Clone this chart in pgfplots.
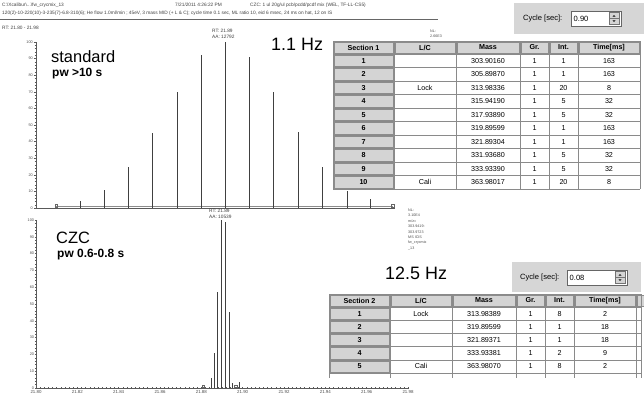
\documentclass[border=0pt]{standalone}
\usepackage{pgfplots}
\pgfplotsset{compat=1.18}
\usepackage{fontspec}
\setmainfont{Liberation Sans}

\newcommand\fs[1]{\fontsize{#1}{#1}\selectfont}
\definecolor{btn}{HTML}{D4D4D4}
\definecolor{panel}{HTML}{D6D6D6}
\definecolor{grid}{HTML}{8A8A8A}

\pgfplotsset{
  chrom/.style={
    scale only axis, clip=false,
    axis x line=bottom, axis y line=left,
    axis line style={-, black!65, line width=0.5bp},
    tick style={black!65, line width=0.35bp},
    major tick length=2.4bp, minor tick length=1.4bp,
    tick align=outside,
    ymin=0, ymax=100,
    ytick={0,10,...,100}, minor y tick num=4,
    yticklabel style={font=\fs{3.8}, text=black!70, inner sep=0.6bp},
    xticklabel style={font=\fs{4.4}, text=black!70, inner sep=1bp},
    /pgf/number format/assume math mode=true,
  },
  stick/.style={ycomb, mark=none, black!75, line width=0.7bp},
}

\begin{document}
\begin{tikzpicture}
\useasboundingbox (0,0) rectangle (644bp,-398bp);

% upper trace: standard, cycle 0.90 s
\begin{axis}[chrom, at={(36bp,-208bp)}, anchor=south west,
  width=359bp, height=166bp, xmin=21.80, xmax=21.9737, xtick=\empty]
  \addplot[black!45, line width=0.5bp] coordinates {(21.8097,1.3) (21.9727,1.3)};
  \addplot[only marks, mark=square, mark size=1.3bp, black!60,
    mark options={line width=0.3bp}] coordinates {(21.8097,1.3) (21.9727,1.3)};
  \addplot[stick] coordinates {
    (21.8213,4) (21.8329,11) (21.8445,25) (21.8561,45) (21.8682,70)
    (21.8798,92) (21.8915,100) (21.9031,91) (21.9147,70) (21.9268,46)
    (21.9384,25) (21.9505,10) (21.9616,5.5)};
\end{axis}

% lower trace: CZC, cycle 0.08 s
\begin{axis}[chrom, at={(36bp,-388bp)}, anchor=south west,
  width=372bp, height=168bp, xmin=21.80, xmax=21.98,
  xtick={21.80,21.82,21.84,21.86,21.88,21.90,21.92,21.94,21.96,21.98},
  minor x tick num=9, tick align=center,
  xticklabel={\pgfmathprintnumber[fixed,fixed zerofill,precision=2]{\tick}}]
  \addplot[only marks, mark=square, mark size=1.2bp, black!60,
    mark options={line width=0.3bp}] coordinates {(21.8808,1) (21.8966,1)};
  \addplot[stick] coordinates {
    (21.8847,6) (21.8861,21) (21.8879,57) (21.8899,100) (21.8916,99)
    (21.8934,45) (21.8950,3) (21.8982,3.5)};
\end{axis}

\begin{scope}[x=1bp, y=-1bp]
  % run header
  \begin{scope}[every node/.style={anchor=west, inner sep=0pt, font=\fs{4.8}, text=black!75}]
    \node at (2,5) {C:\textbackslash Xcalibur\textbackslash...\textbackslash fw\_crycmix\_13};
    \node at (175,5) {7/21/2011 4:26:22 PM};
    \node at (250,5) {CZC: 1 ul 20g/ul pcb/pcdd/pcdf mix (WEL, TF-LL-CS5)};
    \node at (2,13) {120(2)-10-220(10)-3-235(7)-6.8-310(6); He flow 1.0ml/min ; 45eV, 3 mass MID (+ L \& C); cycle time 0.1 sec, ML ratio 10, eid 6 msec, 24 ms on hat, 12 on IS};
    \node at (2,28) {RT: 21.80 - 21.98};
    \node at (212,31) {RT: 21.89};
    \node at (212,36.5) {AA: 12792};
    \node at (209,211) {RT: 21.89};
    \node at (209,216.5) {AA: 10539};
  \end{scope}
  \draw[black!60, line width=0.4bp] (0,19) -- (438,19);

  \begin{scope}[every node/.style={anchor=west, inner sep=0pt, font=\fs{3.7}, text=black!70}]
    \node at (430,31) {NL:};
    \node at (430,36) {2.66E3};
    \foreach \t [count=\k from 0] in {NL:,3.10E4,m/z=,303.9419-,303.9723,MS ICIS,fw\_crycmix,\_13}
      \node at (408,210+\k*5.5) {\t};
  \end{scope}

  % labels
  \node[anchor=west, inner sep=0pt, font=\fs{16.5}] at (51,57) {standard};
  \node[anchor=west, inner sep=0pt, font=\fs{12}\bfseries] at (52,73.5) {pw >10 s};
  \node[anchor=west, inner sep=0pt, font=\fs{16.5}] at (56,238) {CZC};
  \node[anchor=west, inner sep=0pt, font=\fs{12}\bfseries] at (57,254.5) {pw 0.6-0.8 s};
  \node[anchor=west, inner sep=0pt, font=\fs{18}] at (271,44) {1.1 Hz};
  \node[anchor=west, inner sep=0pt, font=\fs{18}] at (385,273) {12.5 Hz};

  % cycle panels
  \fill[panel] (514,3) rectangle (644,34);
  \node[anchor=west, inner sep=0pt, font=\fs{7.6}] at (523,18.5) {Cycle [sec]:};
  \filldraw[fill=white, draw=black!60, line width=0.5bp] (571,11) rectangle (621,26);
  \node[anchor=west, inner sep=0pt, font=\fs{7.6}] at (573.5,18.5) {0.90};
  \filldraw[fill=btn, draw=black!55, line width=0.4bp] (609,12.5) rectangle (619,24.5);
  \draw[black!55, line width=0.3bp] (609,18.5) -- (619,18.5);
  \fill[black] (612.5,16.7) -- (615.5,16.7) -- (614,15) -- cycle;
  \fill[black] (612.5,20.3) -- (615.5,20.3) -- (614,22) -- cycle;

  \fill[panel] (512,262) rectangle (641,292);
  \node[anchor=west, inner sep=0pt, font=\fs{7.6}] at (520,277.5) {Cycle [sec]:};
  \filldraw[fill=white, draw=black!60, line width=0.5bp] (567,270) rectangle (627,285);
  \node[anchor=west, inner sep=0pt, font=\fs{7.6}] at (569.5,277.5) {0.08};
  \filldraw[fill=btn, draw=black!55, line width=0.4bp] (615,271.5) rectangle (625,283.5);
  \draw[black!55, line width=0.3bp] (615,277.5) -- (625,277.5);
  \fill[black] (618.5,275.7) -- (621.5,275.7) -- (620,274) -- cycle;
  \fill[black] (618.5,279.3) -- (621.5,279.3) -- (620,281) -- cycle;

  % ---- table: Section 1 ----
  \fill[white] (333,41) rectangle (640,189);
  \foreach \a/\b/\t in {333/394/{Section 1},394/456/{L/C},456/520/{Mass},520/549/{Gr.},549/578/{Int.},578/640/{Time[ms]}}{
    \filldraw[fill=btn, draw=black!45, line width=0.4bp] (\a+1,42) rectangle (\b-1,53);
    \node[font=\fs{7.2}\bfseries, inner sep=0pt] at ({(\a+\b)/2},47.5) {\t};
  }
  \foreach \n/\lc/\m/\g/\i/\t [count=\r from 0] in {
      1/{}/303.90160/1/1/163, 2/{}/305.89870/1/1/163, 3/Lock/313.98336/1/20/8,
      4/{}/315.94190/1/5/32, 5/{}/317.93890/1/5/32, 6/{}/319.89599/1/1/163,
      7/{}/321.89304/1/1/163, 8/{}/331.93680/1/5/32, 9/{}/333.93390/1/5/32,
      10/Cali/363.98017/1/20/8}{
    \pgfmathsetmacro\ya{54+\r*13.5}
    \pgfmathsetmacro\yc{\ya+6.75}
    \filldraw[fill=btn, draw=black!45, line width=0.4bp] (334,\ya+1) rectangle (393,\ya+12.5);
    \begin{scope}[every node/.style={inner sep=0pt, font=\fs{7.2}}]
      \node[font=\fs{7.2}\bfseries] at (363.5,\yc) {\n};
      \node at (425,\yc) {\lc};
      \node at (488,\yc) {\m};
      \node at (534.5,\yc) {\g};
      \node at (563.5,\yc) {\i};
      \node at (609,\yc) {\t};
    \end{scope}
  }
  \begin{scope}[grid, line width=0.45bp]
    \foreach \y in {41,54,67.5,81,94.5,108,121.5,135,148.5,162,175.5,189}
      \draw (333,\y) -- (640,\y);
    \foreach \x in {333,394,456,520,549,578,640}
      \draw (\x,41) -- (\x,189);
  \end{scope}

  % ---- table: Section 2 ----
  \fill[white] (329,294) rectangle (641,373);
  \foreach \a/\b/\t in {329/390/{Section 2},390/452/{L/C},452/516/{Mass},516/545/{Gr.},545/574/{Int.},574/636/{Time[ms]}}{
    \filldraw[fill=btn, draw=black!45, line width=0.4bp] (\a+1,295) rectangle (\b-1,306);
    \node[font=\fs{7.2}\bfseries, inner sep=0pt] at ({(\a+\b)/2},300.5) {\t};
  }
  \filldraw[fill=btn, draw=black!45, line width=0.4bp] (637,295) rectangle (644,306);
  \foreach \n/\lc/\m/\g/\i/\t [count=\r from 0] in {
      1/Lock/313.98389/1/8/2, 2/{}/319.89599/1/1/18, 3/{}/321.89371/1/1/18,
      4/{}/333.93381/1/2/9, 5/Cali/363.98070/1/8/2}{
    \pgfmathsetmacro\ya{307+\r*13.2}
    \pgfmathsetmacro\yc{\ya+6.6}
    \filldraw[fill=btn, draw=black!45, line width=0.4bp] (330,\ya+1) rectangle (389,\ya+12.2);
    \begin{scope}[every node/.style={inner sep=0pt, font=\fs{7.2}}]
      \node[font=\fs{7.2}\bfseries] at (359.5,\yc) {\n};
      \node at (421,\yc) {\lc};
      \node at (484,\yc) {\m};
      \node at (530.5,\yc) {\g};
      \node at (559.5,\yc) {\i};
      \node at (605,\yc) {\t};
    \end{scope}
  }
  \begin{scope}[grid, line width=0.45bp]
    \foreach \y in {294,307,320.2,333.4,346.6,359.8,373}
      \draw (329,\y) -- (641,\y);
    \foreach \x in {329,390,452,516,545,574,636,641}
      \draw (\x,294) -- (\x,378);
  \end{scope}
\end{scope}
\end{tikzpicture}
\end{document}
